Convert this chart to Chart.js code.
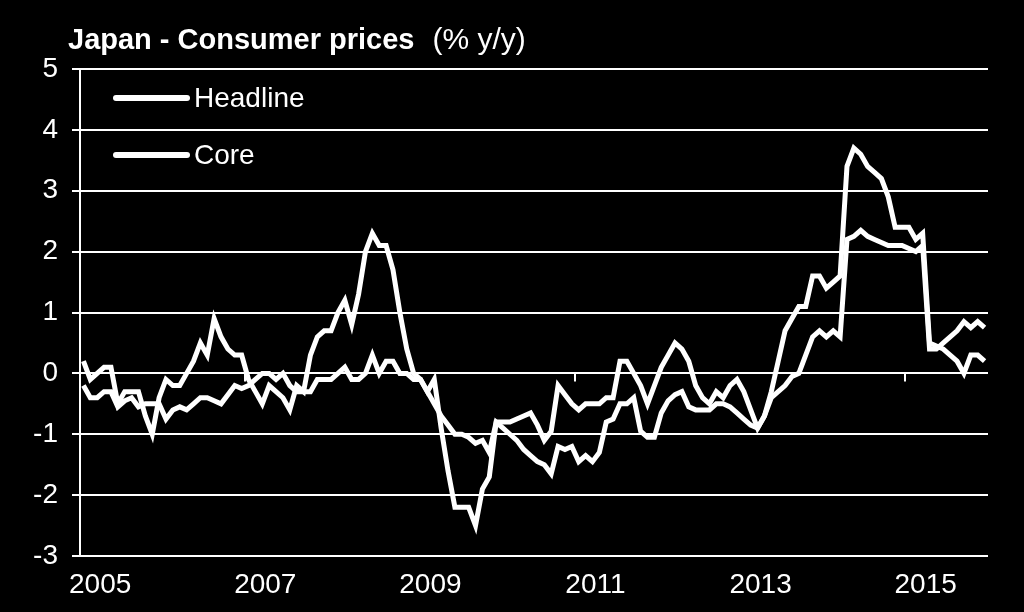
<!DOCTYPE html>
<html>
<head>
<meta charset="utf-8">
<title>Japan - Consumer prices</title>
<script src="https://cdn.jsdelivr.net/npm/chart.js"></script>
<style>
    html, body { margin: 0; padding: 0; background: #000; }
    #wrap { width: 1024px; height: 612px; }
</style>
</head>
<body>
<div id="wrap"><canvas id="cpiChart" width="1024" height="612"></canvas></div>
<script>
    // monthly data, Jan 2005 - Dec 2015, % y/y
    const years = [2005, 2006, 2007, 2008, 2009, 2010, 2011, 2012, 2013, 2014, 2015];
    const tickYears = ['2005', '2007', '2009', '2011', '2013', '2015'];
    const seriesNames = ['Headline', 'Core'];

    const headline = [
        0.2, -0.1, 0.0, 0.1, 0.1, -0.5, -0.3, -0.3, -0.3, -0.7, -1.0, -0.4,
        -0.1, -0.2, -0.2, 0.0, 0.2, 0.5, 0.3, 0.9, 0.6, 0.4, 0.3, 0.3,
        -0.1, -0.3, -0.5, -0.2, -0.3, -0.4, -0.6, -0.2, -0.3, 0.3, 0.6, 0.7,
        0.7, 1.0, 1.2, 0.8, 1.3, 2.0, 2.3, 2.1, 2.1, 1.7, 1.0, 0.4,
        0.0, -0.1, -0.3, -0.1, -0.9, -1.6, -2.2, -2.2, -2.2, -2.5, -1.9, -1.7,
        -0.8, -0.8, -0.8, -0.75, -0.7, -0.65, -0.85, -1.1, -0.95, -0.2, -0.35, -0.5,
        -0.6, -0.5, -0.5, -0.5, -0.4, -0.4, 0.2, 0.2, 0.0, -0.2, -0.5, -0.2,
        0.1, 0.3, 0.5, 0.4, 0.2, -0.2, -0.4, -0.5, -0.3, -0.4, -0.2, -0.1,
        -0.3, -0.6, -0.9, -0.7, -0.3, 0.2, 0.7, 0.9, 1.1, 1.1, 1.6, 1.6,
        1.4, 1.5, 1.6, 3.4, 3.7, 3.6, 3.4, 3.3, 3.2, 2.9, 2.4, 2.4,
        2.4, 2.2, 2.3, 0.5, 0.45, 0.4, 0.3, 0.2, 0.0, 0.3, 0.3, 0.2
    ];

    const core = [
        -0.2, -0.4, -0.4, -0.3, -0.3, -0.55, -0.45, -0.4, -0.55, -0.5, -0.5, -0.5,
        -0.75, -0.6, -0.55, -0.6, -0.5, -0.4, -0.4, -0.45, -0.5, -0.35, -0.2, -0.25,
        -0.2, -0.1, 0.0, 0.0, -0.1, 0.0, -0.2, -0.3, -0.3, -0.3, -0.1, -0.1,
        -0.1, 0.0, 0.1, -0.1, -0.1, 0.0, 0.3, 0.0, 0.2, 0.2, 0.0, 0.0,
        -0.1, -0.1, -0.3, -0.5, -0.7, -0.85, -1.0, -1.0, -1.05, -1.15, -1.1, -1.3,
        -0.8, -0.9, -1.0, -1.1, -1.25, -1.35, -1.45, -1.5, -1.65, -1.2, -1.25, -1.2,
        -1.45, -1.35, -1.45, -1.3, -0.8, -0.75, -0.5, -0.5, -0.4, -0.95, -1.05, -1.05,
        -0.65, -0.45, -0.35, -0.3, -0.55, -0.6, -0.6, -0.6, -0.5, -0.5, -0.55, -0.65,
        -0.75, -0.85, -0.9, -0.7, -0.4, -0.3, -0.2, -0.05, 0.0, 0.3, 0.6, 0.7,
        0.6, 0.7, 0.6, 2.2, 2.25, 2.35, 2.25, 2.2, 2.15, 2.1, 2.1, 2.1,
        2.05, 2.0, 2.1, 0.4, 0.4, 0.5, 0.6, 0.7, 0.85, 0.75, 0.85, 0.75
    ];

    const titleBold = 'Japan - Consumer prices';
    const titleUnit = '(% y/y)';

    const months = [];
    years.forEach(y => {
        for (let m = 1; m <= 12; m++) {
            months.push(y + '-' + String(m).padStart(2, '0'));
        }
    });

    const FONT = '"Liberation Sans", Arial, sans-serif';

    const decorations = {
        id: 'decorations',
        beforeDraw(chart) {
            const ctx = chart.ctx;
            ctx.save();
            ctx.fillStyle = '#000';
            ctx.fillRect(0, 0, chart.width, chart.height);
            ctx.restore();
        },
        beforeDatasetsDraw(chart) {
            // small tick marks where the category axis crosses zero
            const ctx = chart.ctx;
            const xs = chart.scales.x;
            const ys = chart.scales.y;
            const band = xs.getPixelForValue(1) - xs.getPixelForValue(0);
            const y0 = ys.getPixelForValue(0);
            ctx.save();
            ctx.strokeStyle = '#fff';
            ctx.lineWidth = 2;
            ['2007', '2011', '2015'].forEach(yr => {
                const i = months.indexOf(yr + '-01');
                const x = Math.round(xs.getPixelForValue(i) - band / 2);
                ctx.beginPath();
                ctx.moveTo(x, y0);
                ctx.lineTo(x, y0 + 8);
                ctx.stroke();
            });
            ctx.restore();
        },
        afterDraw(chart) {
            const ctx = chart.ctx;
            ctx.save();
            ctx.fillStyle = '#fff';
            ctx.textBaseline = 'alphabetic';
            ctx.font = 'bold 29px ' + FONT;
            ctx.fillText(titleBold, 68, 49);
            const w = ctx.measureText(titleBold).width;
            ctx.font = '30px ' + FONT;
            ctx.fillText(titleUnit, 68 + w + 18, 49);

            // legend inside the plot, top left
            chart.data.datasets.forEach((ds, i) => {
                const y = 98 + i * 57;
                ctx.strokeStyle = ds.borderColor;
                ctx.lineWidth = 6;
                ctx.lineCap = 'round';
                ctx.beginPath();
                ctx.moveTo(116, y);
                ctx.lineTo(187, y);
                ctx.stroke();
                ctx.font = '28px ' + FONT;
                ctx.textBaseline = 'middle';
                ctx.fillText(ds.label, 194, y + 1);
            });
            ctx.restore();
        }
    };

    new Chart(document.getElementById('cpiChart'), {
        type: 'line',
        data: {
            labels: months,
            datasets: [
                {
                    label: seriesNames[0],
                    data: headline,
                    borderColor: '#fff',
                    borderWidth: 5,
                    pointRadius: 0,
                    tension: 0
                },
                {
                    label: seriesNames[1],
                    data: core,
                    borderColor: '#fff',
                    borderWidth: 5,
                    pointRadius: 0,
                    tension: 0
                }
            ]
        },
        options: {
            responsive: false,
            animation: false,
            layout: {
                padding: { top: 69, right: 36, left: 0, bottom: 0 }
            },
            plugins: {
                legend: { display: false },
                title: { display: false },
                tooltip: { enabled: false }
            },
            scales: {
                x: {
                    type: 'category',
                    offset: true,
                    grid: { display: false, drawTicks: false },
                    border: { display: false },
                    afterFit: s => { s.height = 56; },
                    ticks: {
                        autoSkip: false,
                        maxRotation: 0,
                        minRotation: 0,
                        padding: 12,
                        labelOffset: 3,
                        color: '#fff',
                        font: { family: FONT, size: 28 },
                        callback: function (val) {
                            const lab = this.getLabelForValue(val);
                            const yr = lab.slice(0, 4);
                            return lab.endsWith('-03') && tickYears.includes(yr) ? yr : '';
                        }
                    }
                },
                y: {
                    min: -3,
                    max: 5,
                    afterFit: s => { s.width = 80; },
                    grid: {
                        color: '#fff',
                        lineWidth: 2,
                        tickLength: 8,
                        drawTicks: true
                    },
                    border: { display: true, color: '#fff', width: 2 },
                    ticks: {
                        stepSize: 1,
                        padding: 14,
                        color: '#fff',
                        font: { family: FONT, size: 28 }
                    }
                }
            }
        },
        plugins: [decorations]
    });
</script>
</body>
</html>
